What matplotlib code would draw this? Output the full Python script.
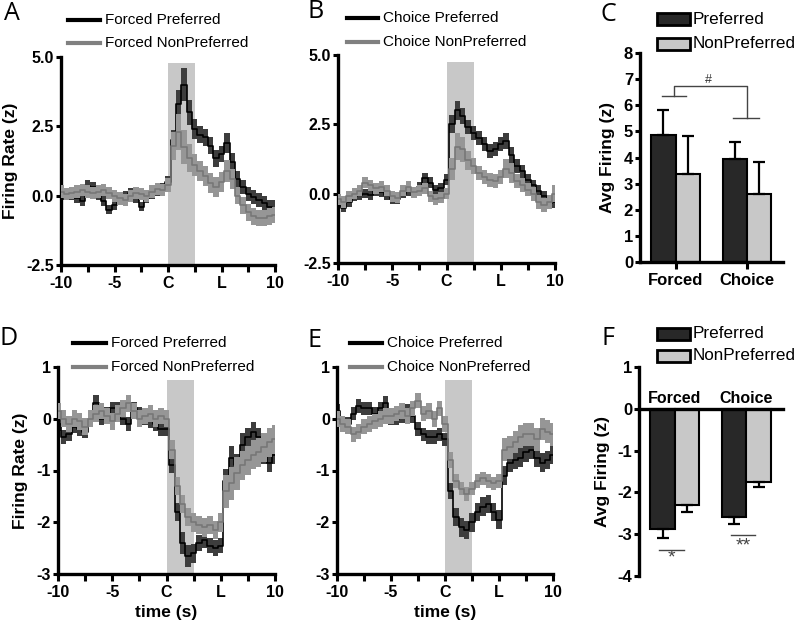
"""PSTH panels (A, B, D, E) and average firing bars (C, F)."""
import matplotlib
matplotlib.use("Agg")
import matplotlib.pyplot as plt
import numpy as np
from matplotlib.lines import Line2D
from matplotlib.patches import Rectangle

plt.rcParams["font.family"] = ["Liberation Sans", "DejaVu Sans"]

W, H = 800, 625

# sample times of the traces (s), 0 = C (cue), 5 = L
TIME = np.linspace(-10, 10, 41)

# --- top row: excited neurons ---
FORCED_PREF_UP = [0.0, 0.05, 0.0, -0.1, -0.2, 0.35, 0.3, 0.0, -0.2, -0.5, -0.35, -0.1, 0.0, 0.1, -0.1, -0.4, -0.1, 0.05, 0.15, 0.3,
                  0.5, 2.0, 3.3, 4.0, 3.0, 2.4, 2.2, 2.1, 1.8, 1.35, 1.5, 1.9, 1.2, 0.6, 0.3, 0.05, -0.05, -0.15, -0.25, -0.4, -0.45]
FORCED_PREF_UP_SEM = [0.17, 0.17, 0.17, 0.17, 0.17, 0.2, 0.2, 0.17, 0.17, 0.17, 0.17, 0.17, 0.17, 0.17, 0.17, 0.17, 0.17, 0.17, 0.17, 0.17,
                      0.2, 0.35, 0.5, 0.6, 0.45, 0.35, 0.3, 0.3, 0.3, 0.3, 0.3, 0.35, 0.35, 0.3, 0.25, 0.25, 0.25, 0.25, 0.25, 0.25, 0.28]
FORCED_NON_UP = [0.15, 0.05, 0.1, 0.15, 0.2, 0.15, 0.1, 0.15, 0.2, 0.1, 0.0, -0.1, -0.15, 0.0, 0.1, 0.05, 0.0, 0.15, 0.25, 0.2,
                 0.4, 1.8, 2.3, 1.75, 1.35, 1.1, 0.9, 0.7, 0.45, 0.3, 0.5, 0.9, 0.6, 0.0, -0.35, -0.6, -0.75, -0.8, -0.8, -0.75, -0.7]
FORCED_NON_UP_SEM = [0.22, 0.22, 0.22, 0.22, 0.22, 0.22, 0.22, 0.22, 0.22, 0.22, 0.22, 0.22, 0.22, 0.22, 0.22, 0.22, 0.22, 0.22, 0.22, 0.22,
                     0.25, 0.5, 0.65, 0.6, 0.5, 0.4, 0.36, 0.36, 0.36, 0.36, 0.36, 0.4, 0.36, 0.3, 0.3, 0.3, 0.3, 0.3, 0.3, 0.3, 0.3]

CHOICE_PREF_UP = [-0.3, -0.5, -0.3, -0.1, -0.05, 0.0, -0.05, 0.1, 0.05, -0.05, -0.2, -0.2, 0.0, 0.1, 0.05, 0.25, 0.55, 0.4, 0.15, 0.2,
                  0.5, 2.5, 3.0, 2.8, 2.4, 2.2, 2.0, 1.8, 1.55, 1.6, 1.8, 1.9, 1.4, 1.0, 0.8, 0.5, 0.3, 0.1, -0.1, -0.35, -0.3]
CHOICE_PREF_UP_SEM = [0.17, 0.17, 0.17, 0.17, 0.17, 0.17, 0.17, 0.17, 0.17, 0.17, 0.17, 0.17, 0.17, 0.17, 0.17, 0.17, 0.2, 0.2, 0.17, 0.17,
                      0.2, 0.33, 0.33, 0.3, 0.25, 0.25, 0.25, 0.25, 0.25, 0.25, 0.25, 0.3, 0.3, 0.25, 0.25, 0.2, 0.2, 0.2, 0.2, 0.2, 0.2]
CHOICE_NON_UP = [-0.2, -0.3, -0.1, 0.0, 0.1, 0.4, 0.3, 0.2, 0.25, 0.1, -0.1, -0.15, 0.1, 0.25, 0.05, 0.1, 0.2, -0.1, -0.2, -0.15,
                 0.0, 0.9, 1.7, 1.6, 1.2, 1.0, 0.75, 0.6, 0.5, 0.45, 0.6, 0.9, 0.75, 0.45, 0.3, 0.15, 0.0, -0.3, -0.4, -0.3, 0.0]
CHOICE_NON_UP_SEM = [0.2, 0.2, 0.2, 0.2, 0.2, 0.2, 0.2, 0.2, 0.2, 0.2, 0.2, 0.2, 0.2, 0.2, 0.2, 0.2, 0.2, 0.2, 0.2, 0.2,
                     0.2, 0.4, 0.5, 0.45, 0.35, 0.3, 0.25, 0.25, 0.25, 0.25, 0.25, 0.35, 0.35, 0.25, 0.25, 0.25, 0.25, 0.25, 0.25, 0.25, 0.3]

# --- bottom row: inhibited neurons ---
FORCED_PREF_DN = [-0.1, -0.35, -0.3, -0.15, -0.2, -0.25, 0.0, 0.3, 0.0, 0.1, 0.2, 0.2, 0.0, -0.1, 0.2, 0.1, 0.0, -0.05, -0.1, -0.2,
                  -0.2, -0.9, -1.8, -2.4, -2.65, -2.6, -2.4, -2.35, -2.45, -2.5, -2.45, -1.2, -0.75, -0.9, -0.5, -0.35, -0.25, -0.35, -0.7, -0.85, -0.7]
FORCED_PREF_DN_SEM = [0.13, 0.13, 0.13, 0.13, 0.13, 0.13, 0.13, 0.15, 0.13, 0.13, 0.13, 0.13, 0.13, 0.13, 0.13, 0.13, 0.13, 0.13, 0.13, 0.13,
                      0.13, 0.15, 0.18, 0.22, 0.22, 0.18, 0.15, 0.15, 0.15, 0.15, 0.15, 0.22, 0.22, 0.22, 0.22, 0.18, 0.18, 0.18, 0.18, 0.18, 0.18]
FORCED_NON_DN = [0.15, 0.0, -0.1, 0.0, -0.05, -0.15, 0.0, 0.1, 0.15, 0.05, -0.05, 0.1, 0.2, 0.3, 0.15, 0.0, 0.05, 0.1, 0.0, 0.05,
                 0.0, -0.6, -1.3, -1.65, -1.9, -2.0, -2.05, -2.1, -2.05, -2.15, -2.0, -1.4, -1.25, -1.05, -0.9, -0.8, -0.7, -0.65, -0.55, -0.45, -0.4]
FORCED_NON_DN_SEM = [0.16, 0.16, 0.16, 0.16, 0.16, 0.16, 0.16, 0.16, 0.16, 0.16, 0.16, 0.16, 0.16, 0.16, 0.16, 0.16, 0.16, 0.16, 0.16, 0.16,
                     0.16, 0.18, 0.18, 0.18, 0.18, 0.18, 0.18, 0.18, 0.18, 0.18, 0.18, 0.32, 0.32, 0.32, 0.28, 0.28, 0.28, 0.28, 0.28, 0.28, 0.28]

CHOICE_PREF_DN = [0.15, -0.1, -0.1, 0.1, 0.25, 0.2, 0.2, 0.1, 0.2, 0.3, 0.0, 0.0, 0.05, 0.15, 0.05, -0.2, -0.3, -0.35, -0.35, -0.3,
                  -0.4, -1.4, -1.9, -2.1, -2.15, -2.0, -1.8, -1.7, -1.65, -1.8, -1.95, -1.1, -0.85, -0.8, -0.75, -0.65, -0.6, -0.75, -0.85, -0.8, -0.7]
CHOICE_PREF_DN_SEM = [0.13, 0.13, 0.13, 0.13, 0.13, 0.13, 0.13, 0.13, 0.13, 0.13, 0.13, 0.13, 0.13, 0.13, 0.13, 0.13, 0.13, 0.13, 0.13, 0.13,
                      0.13, 0.15, 0.18, 0.18, 0.18, 0.18, 0.18, 0.18, 0.18, 0.18, 0.18, 0.18, 0.18, 0.18, 0.18, 0.18, 0.18, 0.18, 0.18, 0.18, 0.18]
CHOICE_NON_DN = [0.0, -0.1, -0.15, -0.3, -0.25, -0.15, -0.1, -0.05, 0.0, 0.05, 0.05, 0.1, 0.15, 0.05, 0.2, 0.35, 0.1, 0.15, 0.0, 0.2,
                 -0.1, -0.8, -1.2, -1.35, -1.45, -1.35, -1.2, -1.15, -1.2, -1.25, -1.2, -0.6, -0.55, -0.45, -0.35, -0.3, -0.3, -0.4, -0.2, -0.25, -0.3]
CHOICE_NON_DN_SEM = [0.15, 0.15, 0.15, 0.15, 0.15, 0.15, 0.15, 0.15, 0.15, 0.15, 0.15, 0.15, 0.15, 0.15, 0.15, 0.15, 0.15, 0.15, 0.15, 0.15,
                     0.15, 0.15, 0.13, 0.13, 0.13, 0.13, 0.13, 0.13, 0.13, 0.13, 0.13, 0.22, 0.22, 0.22, 0.22, 0.22, 0.22, 0.22, 0.22, 0.22, 0.22]

# --- bar panels ---
GROUPS = ["Forced", "Choice"]
C_PREF = [4.85, 3.95]
C_PREF_ERR = [0.95, 0.65]
C_NON = [3.38, 2.6]
C_NON_ERR = [1.45, 1.22]
F_PREF = [-2.88, -2.59]
F_PREF_ERR = [0.21, 0.17]
F_NON = [-2.29, -1.75]
F_NON_ERR = [0.18, 0.11]

X_TICKS = [-10, -7.5, -5, -2.5, 0, 2.5, 5, 7.5, 10]
X_LABELS = ["-10", "", "-5", "", "C", "", "L", "", "10"]

PREF_BAND, PREF_LINE = "#3d3d3d", "#000000"
NON_BAND, NON_LINE = "#969696", "#777777"
SHADE = "#c8c8c8"
DARK_BAR, LIGHT_BAR = "#282828", "#c8c8c8"


def add_axes_px(fig, left, top, right, bottom):
    return fig.add_axes([left / W, 1 - bottom / H, (right - left) / W, (bottom - top) / H])


def style_axes(ax, tick_size=11.5):
    for side in ("top", "right"):
        ax.spines[side].set_visible(False)
    for side in ("left", "bottom"):
        ax.spines[side].set_linewidth(2.4)
    ax.tick_params(axis="both", width=2.2, labelsize=tick_size, direction="out")
    ax.tick_params(axis="y", length=3.5, pad=1.5)
    ax.tick_params(axis="x", length=5, pad=3)


def trace_panel(ax, pref, pref_sem, non, non_sem, ylim, yticks, ylabels, shade_top, xlabel):
    pref, pref_sem = np.array(pref), np.array(pref_sem)
    non, non_sem = np.array(non), np.array(non_sem)
    ax.fill_between([0, 2.5], ylim[0], shade_top, color=SHADE, lw=0, zorder=0)
    ax.fill_between(TIME, pref - pref_sem, pref + pref_sem, step="mid", color=PREF_BAND, lw=0, zorder=1)
    ax.plot(TIME, pref, drawstyle="steps-mid", color=PREF_LINE, lw=1.2, zorder=2)
    ax.fill_between(TIME, non - non_sem, non + non_sem, step="mid", color=NON_BAND, lw=0, zorder=3)
    ax.plot(TIME, non, drawstyle="steps-mid", color=NON_LINE, lw=1.2, zorder=4)
    ax.set_xlim(-10, 10)
    ax.set_ylim(*ylim)
    ax.set_xticks(X_TICKS, X_LABELS, fontweight="bold")
    ax.set_yticks(yticks, ylabels, fontweight="bold")
    style_axes(ax)
    if xlabel:
        ax.set_xlabel("time (s)", fontsize=12.5, fontweight="bold", va="center")
        ax.xaxis.set_label_coords(0.5, -0.185)


def line_legend(fig, x0, x1, y, color, text):
    fig.add_artist(Line2D([x0 / W, x1 / W], [1 - y / H, 1 - y / H], color=color, lw=3,
                          transform=fig.transFigure))
    fig.text((x1 + 5) / W, 1 - y / H, text, va="center", ha="left", fontsize=11)


def box_legend(fig, x0, y, color, text):
    fig.add_artist(Rectangle((x0 / W, 1 - (y + 6) / H), 33 / W, 12 / H, facecolor=color,
                             edgecolor="black", lw=2, transform=fig.transFigure))
    fig.text((x0 + 36) / W, 1 - y / H, text, va="center", ha="left", fontsize=12.3)


def panel_letter(fig, x, y, letter):
    fig.text(x / W, 1 - y / H, letter, fontsize=18, family="Open Sans", va="baseline", ha="left")


fig = plt.figure(figsize=(8, 6.25), dpi=100)

# A
ax_a = add_axes_px(fig, 61, 57, 275, 265)
trace_panel(ax_a, FORCED_PREF_UP, FORCED_PREF_UP_SEM, FORCED_NON_UP, FORCED_NON_UP_SEM,
            (-2.5, 5.0), [-2.5, 0, 2.5, 5.0], ["-2.5", "0.0", "2.5", "5.0"], 4.8, False)
ax_a.set_ylabel("Firing Rate (z)", fontsize=12.5, fontweight="bold", va="center")
ax_a.yaxis.set_label_coords(-0.238, 0.5)

# B
ax_b = add_axes_px(fig, 338, 55, 555, 263)
trace_panel(ax_b, CHOICE_PREF_UP, CHOICE_PREF_UP_SEM, CHOICE_NON_UP, CHOICE_NON_UP_SEM,
            (-2.5, 5.0), [-2.5, 0, 2.5, 5.0], ["-2.5", "0.0", "2.5", "5.0"], 4.76, False)

# D
ax_d = add_axes_px(fig, 58, 367, 275, 574)
trace_panel(ax_d, FORCED_PREF_DN, FORCED_PREF_DN_SEM, FORCED_NON_DN, FORCED_NON_DN_SEM,
            (-3, 1), [-3, -2, -1, 0, 1], ["-3", "-2", "-1", "0", "1"], 0.75, True)
ax_d.set_ylabel("Firing Rate (z)", fontsize=12.5, fontweight="bold", va="center")
ax_d.yaxis.set_label_coords(-0.175, 0.5)

# E
ax_e = add_axes_px(fig, 337, 367, 553, 574)
trace_panel(ax_e, CHOICE_PREF_DN, CHOICE_PREF_DN_SEM, CHOICE_NON_DN, CHOICE_NON_DN_SEM,
            (-3, 1), [-3, -2, -1, 0, 1], ["-3", "-2", "-1", "0", "1"], 0.75, True)

# C
ax_c = add_axes_px(fig, 640, 53, 783, 262)
x = np.arange(len(GROUPS))
ax_c.bar(x - 0.17, C_PREF, 0.34, color=DARK_BAR, edgecolor="black", lw=1.5,
         yerr=[np.zeros(len(x)), C_PREF_ERR], capsize=4, error_kw=dict(lw=1.6, capthick=1.6), zorder=2)
ax_c.bar(x + 0.17, C_NON, 0.34, color=LIGHT_BAR, edgecolor="black", lw=1.5,
         yerr=[np.zeros(len(x)), C_NON_ERR], capsize=4, error_kw=dict(lw=1.6, capthick=1.6), zorder=2)
ax_c.set_xlim(-0.5, 1.51)
ax_c.set_ylim(0, 8)
ax_c.set_yticks(range(0, 9), [str(v) for v in range(0, 9)], fontweight="bold")
ax_c.set_xticks(x, GROUPS, fontweight="bold")
style_axes(ax_c, tick_size=12)
ax_c.set_ylabel("Avg Firing (z)", fontsize=12.5, fontweight="bold", va="center")
ax_c.yaxis.set_label_coords(-0.23, 0.5)
# "#" bracket between Forced and Choice
bk = dict(color="#444444", lw=1.0, zorder=3)
ax_c.plot([-0.19, 0.14], [6.36, 6.36], **bk)
ax_c.plot([-0.02, -0.02, 1.0, 1.0], [6.36, 6.72, 6.72, 5.53], **bk)
ax_c.plot([0.81, 1.17], [5.53, 5.53], **bk)
ax_c.text(0.46, 6.98, "#", ha="center", va="center", fontsize=9, color="#333333")

# F
ax_f = add_axes_px(fig, 639, 367, 783, 576)
ax_f.bar(x - 0.17, F_PREF, 0.34, color=DARK_BAR, edgecolor="black", lw=1.5,
         yerr=[F_PREF_ERR, np.zeros(len(x))], capsize=4, error_kw=dict(lw=1.6, capthick=1.6), zorder=2)
ax_f.bar(x + 0.17, F_NON, 0.34, color=LIGHT_BAR, edgecolor="black", lw=1.5,
         yerr=[F_NON_ERR, np.zeros(len(x))], capsize=4, error_kw=dict(lw=1.6, capthick=1.6), zorder=2)
ax_f.set_xlim(-0.5, 1.51)
ax_f.set_ylim(-4, 1)
ax_f.set_yticks(range(-4, 2), [str(v) for v in range(-4, 2)], fontweight="bold")
style_axes(ax_f, tick_size=12)
ax_f.spines["bottom"].set_position(("data", 0))
ax_f.set_xticks([])
for xi, name in zip(x, GROUPS):
    ax_f.text(xi, 0.06, name, ha="center", va="bottom", fontsize=11.5, fontweight="bold")
ax_f.set_ylabel("Avg Firing (z)", fontsize=12.5, fontweight="bold", va="center")
ax_f.yaxis.set_label_coords(-0.255, 0.5)
sig = dict(color="#444444", lw=1.0)
ax_f.plot([-0.22, 0.13], [-3.37, -3.37], **sig)
ax_f.text(-0.05, -3.58, "*", ha="center", va="center", fontsize=14, color="#444444")
ax_f.plot([0.79, 1.12], [-3.03, -3.03], **sig)
ax_f.text(0.95, -3.28, "**", ha="center", va="center", fontsize=14, color="#444444")

# legends
line_legend(fig, 68, 100, 20, "black", "Forced Preferred")
line_legend(fig, 68, 100, 43, "#808080", "Forced NonPreferred")
line_legend(fig, 347, 378, 18, "black", "Choice Preferred")
line_legend(fig, 347, 378, 42, "#808080", "Choice NonPreferred")
line_legend(fig, 73, 106, 343, "black", "Forced Preferred")
line_legend(fig, 73, 106, 367, "#808080", "Forced NonPreferred")
line_legend(fig, 350, 382, 343, "black", "Choice Preferred")
line_legend(fig, 350, 382, 367, "#808080", "Choice NonPreferred")
box_legend(fig, 657, 19, DARK_BAR, "Preferred")
box_legend(fig, 657, 44, LIGHT_BAR, "NonPreferred")
box_legend(fig, 657, 334, DARK_BAR, "Preferred")
box_legend(fig, 657, 356, LIGHT_BAR, "NonPreferred")

for px, py, letter in [(4, 20, "A"), (307, 18, "B"), (600, 21, "C"),
                       (0, 345, "D"), (308, 347, "E"), (602, 345, "F")]:
    panel_letter(fig, px, py, letter)

fig.savefig("out.png", dpi=100)
